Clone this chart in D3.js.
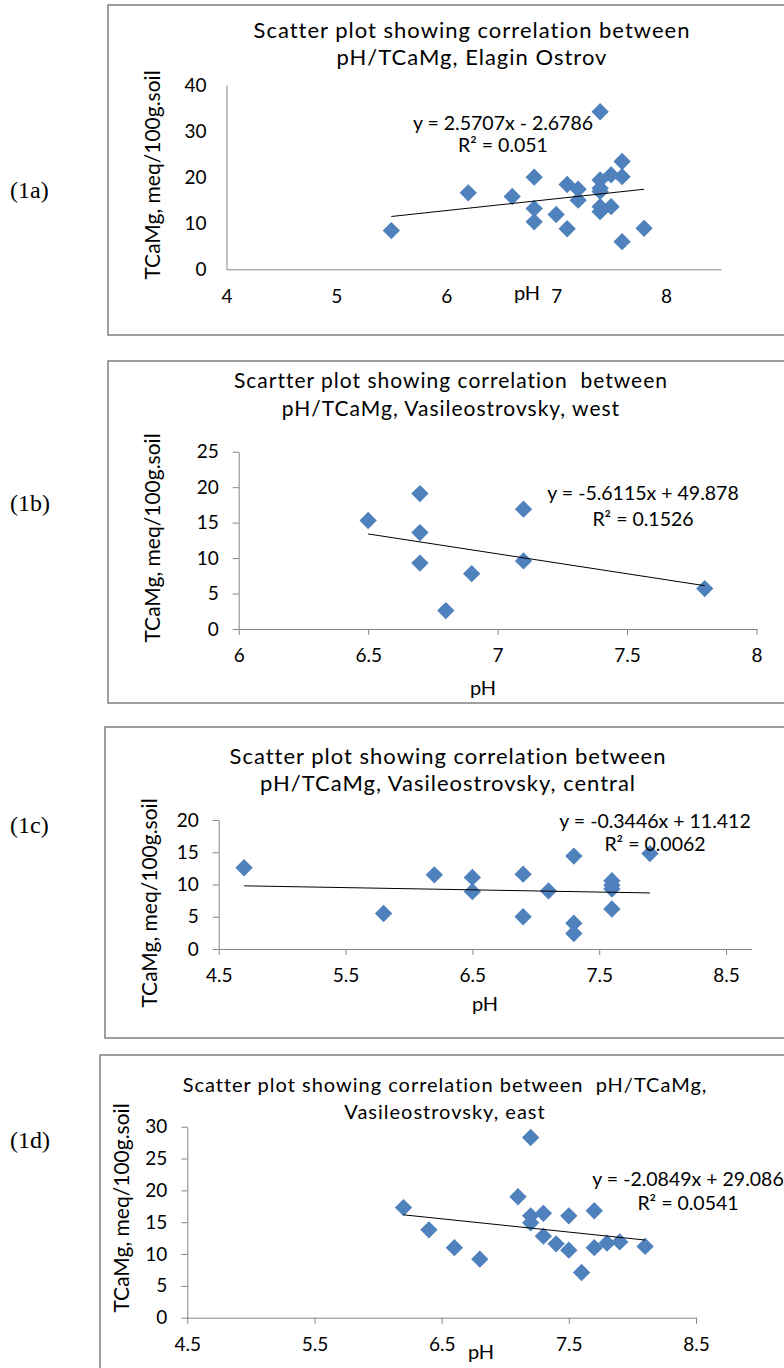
<!DOCTYPE html>
<html lang="en">
<head>
<meta charset="UTF-8">
<title>pH / TCaMg scatter plots</title>
<script src="https://d3js.org/d3.v7.min.js"></script>
<style>
  body { margin: 0; background: #fff; }
  svg { display: block; font-family: Lato, "Open Sans", sans-serif; }
  .frame { fill: none; stroke: #7f7f7f; stroke-width: 1.5px; }
  .axis path, .axis line { stroke: #868686; }
  .axis text { font-family: Lato, "Open Sans", sans-serif; font-size: 19px; fill: #000; }
  .title { letter-spacing: 1px; fill: #000; white-space: pre; }
  .ylab { font-size: 21px; fill: #000; }
  .xlab { font-size: 20px; fill: #000; }
  .eq { font-size: 19.5px; fill: #000; }
  .row { font-family: "Liberation Serif", "Times New Roman", serif; font-size: 24px; fill: #000; }
</style>
</head>
<body>
<svg id="chart" width="784" height="1368"></svg>
<script>
// (1a) Elagin Ostrov
const phA  = [5.5, 6.2, 6.6, 6.8, 6.8, 6.8, 7.0, 7.1, 7.1, 7.2, 7.2, 7.4, 7.4, 7.4, 7.4, 7.4, 7.4, 7.5, 7.5, 7.6, 7.6, 7.6, 7.8];
const tcaA = [8.4, 16.6, 15.8, 20.0, 13.2, 10.3, 11.9, 18.4, 8.8, 17.4, 15.0, 34.2, 19.4, 17.6, 16.9, 13.6, 12.5, 20.5, 13.6, 23.4, 20.1, 6.0, 8.9];
// (1b) Vasileostrovsky, west
const phB  = [6.5, 6.7, 6.7, 6.7, 6.8, 6.9, 7.1, 7.1, 7.8];
const tcaB = [15.3, 19.1, 13.6, 9.3, 2.6, 7.8, 16.9, 9.6, 5.7];
// (1c) Vasileostrovsky, central
const phC  = [4.7, 5.8, 6.2, 6.5, 6.5, 6.9, 6.9, 7.1, 7.3, 7.3, 7.3, 7.6, 7.6, 7.6, 7.6, 7.9];
const tcaC = [12.6, 5.5, 11.5, 11.1, 8.9, 11.6, 5.0, 9.0, 14.4, 4.0, 2.4, 10.6, 9.9, 9.3, 6.2, 14.8];
// (1d) Vasileostrovsky, east
const phD  = [6.2, 6.4, 6.6, 6.8, 7.1, 7.2, 7.2, 7.2, 7.3, 7.3, 7.4, 7.5, 7.5, 7.6, 7.7, 7.7, 7.8, 7.9, 8.1];
const tcaD = [17.3, 13.8, 11.0, 9.2, 19.0, 28.3, 16.0, 14.9, 16.4, 12.8, 11.6, 16.0, 10.6, 7.1, 16.8, 11.0, 11.7, 11.9, 11.2];

// trendline coefficients [slope, intercept] and R²
const trendA = [2.5707, -2.6786], r2A = "0.051";
const trendB = [-5.6115, 49.878], r2B = "0.1526";
const trendC = [-0.3446, 11.412], r2C = "0.0062";
const trendD = [-2.0849, 29.086], r2D = "0.0541";

// axis ticks
const xTicksA = [4, 5, 6, 7, 8],           yTicksA = [0, 10, 20, 30, 40];
const xTicksB = [6, 6.5, 7, 7.5, 8],       yTicksB = [0, 5, 10, 15, 20, 25];
const xTicksC = [4.5, 5.5, 6.5, 7.5, 8.5], yTicksC = [0, 5, 10, 15, 20];
const xTicksD = [4.5, 5.5, 6.5, 7.5, 8.5], yTicksD = [0, 5, 10, 15, 20, 25, 30];

const svg = d3.select("#chart");
svg.append("rect").attr("width", 784).attr("height", 1368).attr("fill", "#fff");

const panels = [
  { tag: "(1a)", tagY: 190, xs: phA, ys: tcaA, trend: trendA, r2: r2A, xTicks: xTicksA, yTicks: yTicksA,
    xDom: [4, 8.5], yDom: [0, 40], xR: [226.5, 721], yR: [269.3, 85], tickLen: 0,
    frame: [108, 5, 335], titles: ["Scatter plot showing correlation between", "pH/TCaMg, Elagin Ostrov"],
    titleSize: 22, titleX: 472, titleY: [30, 57], yl: [153, 175], xl: [527, 293], eq: [503, 123, 145] },
  { tag: "(1b)", tagY: 503, xs: phB, ys: tcaB, trend: trendB, r2: r2B, xTicks: xTicksB, yTicks: yTicksB,
    xDom: [6, 8], yDom: [0, 25], xR: [238.7, 756.5], yR: [629, 451.7], tickLen: 6,
    frame: [108, 361, 703], titles: ["Scartter plot showing correlation  between", "pH/TCaMg, Vasileostrovsky, west"],
    titleSize: 21, titleX: 451, titleY: [381, 409], yl: [153, 538], xl: [483, 688], eq: [643, 493, 519] },
  { tag: "(1c)", tagY: 825, xs: phC, ys: tcaC, trend: trendC, r2: r2C, xTicks: xTicksC, yTicks: yTicksC,
    xDom: [4.5, 8.7], yDom: [0, 20], xR: [218.7, 751.4], yR: [949, 820], tickLen: 6,
    frame: [105, 727, 1038], titles: ["Scatter plot showing correlation between", "pH/TCaMg, Vasileostrovsky, central"],
    titleSize: 22, titleX: 448, titleY: [756, 783], yl: [150, 903], xl: [485, 1004], eq: [655, 821, 844] },
  { tag: "(1d)", tagY: 1140, xs: phD, ys: tcaD, trend: trendD, r2: r2D, xTicks: xTicksD, yTicks: yTicksD,
    xDom: [4.5, 8.5], yDom: [0, 30], xR: [187.3, 696], yR: [1317.7, 1126.7], tickLen: 6,
    frame: [100, 1055, 1400], titles: ["Scatter plot showing correlation between  pH/TCaMg,", "Vasileostrovsky, east"],
    titleSize: 20, titleX: 445, titleY: [1085, 1112], yl: [122, 1208], xl: [481, 1352], eq: [688, 1179, 1203] }
];

const diamond = d3.symbol().type(d3.symbolSquare).size(150);
const fmt = d => String(d);

panels.forEach(p => {
  // frame
  svg.append("rect").attr("class", "frame")
    .attr("x", p.frame[0]).attr("y", p.frame[1])
    .attr("width", 800 - p.frame[0]).attr("height", p.frame[2] - p.frame[1]);

  // row label
  svg.append("text").attr("class", "row")
    .attr("x", 10).attr("y", p.tagY).attr("dy", "0.35em").text(p.tag);

  // titles
  p.titles.forEach((t, i) => {
    svg.append("text").attr("class", "title")
      .attr("x", p.titleX).attr("y", p.titleY[i]).attr("dy", "0.35em")
      .attr("font-size", p.titleSize)
      .attr("text-anchor", "middle").text(t);
  });

  const x = d3.scaleLinear().domain(p.xDom).range(p.xR);
  const y = d3.scaleLinear().domain(p.yDom).range(p.yR);

  svg.append("g").attr("class", "axis")
    .attr("transform", `translate(0,${p.yR[0]})`)
    .call(d3.axisBottom(x).tickValues(p.xTicks).tickFormat(fmt)
      .tickSizeInner(p.tickLen).tickSizeOuter(0).tickPadding(20 - p.tickLen));

  svg.append("g").attr("class", "axis")
    .attr("transform", `translate(${p.xR[0]},0)`)
    .call(d3.axisLeft(y).tickValues(p.yTicks).tickFormat(fmt)
      .tickSizeInner(p.tickLen).tickSizeOuter(0).tickPadding(20 - p.tickLen));

  // axis titles
  svg.append("text").attr("class", "ylab")
    .attr("transform", `translate(${p.yl[0]},${p.yl[1]}) rotate(-90)`)
    .attr("text-anchor", "middle").attr("dy", "0.35em").text("TCaMg, meq/100g.soil");
  svg.append("text").attr("class", "xlab")
    .attr("x", p.xl[0]).attr("y", p.xl[1]).attr("dy", "0.35em")
    .attr("text-anchor", "middle").text("pH");

  // points
  svg.append("g").selectAll("path")
    .data(p.xs.map((v, i) => [v, p.ys[i]]))
    .join("path")
    .attr("d", diamond)
    .attr("transform", d => `translate(${x(d[0])},${y(d[1])}) rotate(45)`)
    .attr("fill", "#4f81bd");

  // linear trendline over the data range
  const ext = d3.extent(p.xs);
  svg.append("line")
    .attr("x1", x(ext[0])).attr("y1", y(p.trend[0] * ext[0] + p.trend[1]))
    .attr("x2", x(ext[1])).attr("y2", y(p.trend[0] * ext[1] + p.trend[1]))
    .attr("stroke", "#000").attr("stroke-width", 1);

  // equation
  const m = p.trend[0], b = p.trend[1];
  const eqText = `y = ${m}x ${b < 0 ? "- " + (-b) : "+ " + b}`;
  svg.append("text").attr("class", "eq")
    .attr("x", p.eq[0]).attr("y", p.eq[1]).attr("dy", "0.35em")
    .attr("text-anchor", "middle").text(eqText);
  svg.append("text").attr("class", "eq")
    .attr("x", p.eq[0]).attr("y", p.eq[2]).attr("dy", "0.35em")
    .attr("text-anchor", "middle").text(`R² = ${p.r2}`);
});
</script>
</body>
</html>
